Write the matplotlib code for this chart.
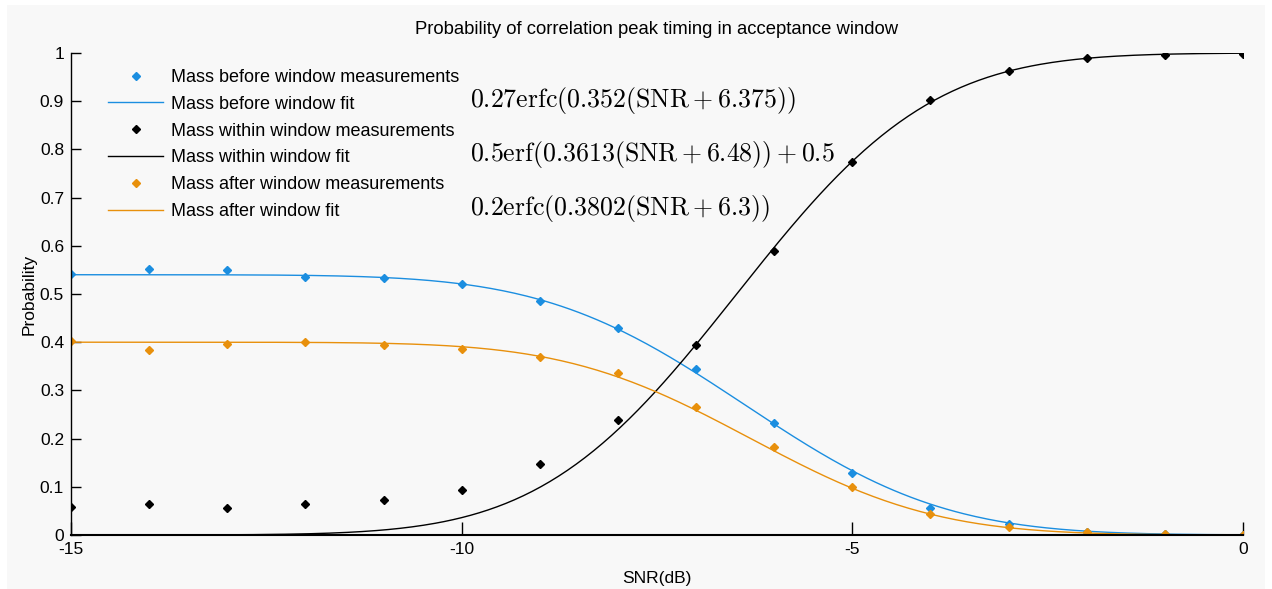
import math
import numpy as np
import matplotlib
matplotlib.use("Agg")
import matplotlib.pyplot as plt
from matplotlib.patches import Rectangle

# ---- data ----
snr = [-15, -14, -13, -12, -11, -10, -9, -8, -7, -6, -5, -4, -3, -2, -1, 0]
before_meas = [0.541, 0.552, 0.550, 0.535, 0.533, 0.521, 0.485, 0.429, 0.344,
               0.232, 0.129, 0.056, 0.023, 0.006, 0.002, 0.000]
within_meas = [0.058, 0.064, 0.056, 0.064, 0.073, 0.093, 0.147, 0.239, 0.394,
               0.589, 0.774, 0.902, 0.963, 0.990, 0.996, 0.998]
after_meas = [0.402, 0.384, 0.396, 0.400, 0.394, 0.386, 0.369, 0.336, 0.266,
              0.183, 0.100, 0.044, 0.017, 0.006, 0.002, 0.001]

# fit parameters shown on the chart
before_fit = (0.27, 0.352, 6.375)    # a*erfc(k(SNR+c))
within_fit = (0.5, 0.3613, 6.48)     # a*erf(k(SNR+c)) + 0.5
after_fit = (0.2, 0.3802, 6.3)       # a*erfc(k(SNR+c))

eq_labels = [r"$0.27\mathrm{erfc}(0.352(\mathrm{SNR}+6.375))$",
             r"$0.5\mathrm{erf}(0.3613(\mathrm{SNR}+6.48))+0.5$",
             r"$0.2\mathrm{erfc}(0.3802(\mathrm{SNR}+6.3))$"]

xticks = [-15, -10, -5, 0]
yticks = [0, 0.1, 0.2, 0.3, 0.4, 0.5, 0.6, 0.7, 0.8, 0.9, 1]
ytick_labels = ["0", "0.1", "0.2", "0.3", "0.4", "0.5", "0.6", "0.7", "0.8", "0.9", "1"]

BLUE = "#1b8ee0"
ORANGE = "#e8900c"
BLACK = "#000000"

erf = np.vectorize(math.erf)

plt.rcParams['font.family'] = ['Liberation Sans', 'DejaVu Sans']
plt.rcParams['mathtext.fontset'] = 'cm'

fig = plt.figure(figsize=(12.72, 5.89), dpi=100, facecolor="white")
fig.patches.append(Rectangle((7 / 1272, 0), 1 - 14 / 1272, 1 - 5 / 589,
                             transform=fig.transFigure, facecolor="#f8f8f8",
                             edgecolor="none", zorder=-10))
ax = fig.add_axes([71 / 1272, 1 - 535 / 589, (1243 - 71) / 1272, (535 - 53) / 589])
ax.set_facecolor("#f8f8f8")

xs = np.linspace(-15, 0, 400)
a, k, c = before_fit
yb = a * (1 - erf(k * (xs + c)))
a, k, c = within_fit
yw = a * erf(k * (xs + c)) + 0.5
a, k, c = after_fit
ya = a * (1 - erf(k * (xs + c)))

ms = 4.5
ax.plot(snr, before_meas, linestyle="none", marker="D", ms=ms, color=BLUE,
        label="Mass before window measurements")
ax.plot(xs, yb, color=BLUE, lw=1.0, label="Mass before window fit")
ax.plot(snr, within_meas, linestyle="none", marker="D", ms=ms, color=BLACK,
        label="Mass within window measurements")
ax.plot(xs, yw, color=BLACK, lw=1.0, label="Mass within window fit")
ax.plot(snr, after_meas, linestyle="none", marker="D", ms=ms, color=ORANGE,
        label="Mass after window measurements")
ax.plot(xs, ya, color=ORANGE, lw=1.0, label="Mass after window fit")

ax.set_xlim(-15, 0)
ax.set_ylim(0, 1)
ax.set_xticks(xticks)
ax.set_xticklabels([str(t) for t in xticks])
ax.set_yticks(yticks)
ax.set_yticklabels(ytick_labels)
ax.tick_params(axis="x", direction="in", length=9.5, width=1, labelsize=12.5, pad=5)
ax.tick_params(axis="y", direction="in", length=7.5, width=1, labelsize=12.5, pad=5)
for s in ["top", "right"]:
    ax.spines[s].set_visible(False)
ax.spines["left"].set_linewidth(1.0)
ax.spines["bottom"].set_linewidth(1.5)

ax.set_title("Probability of correlation peak timing in acceptance window",
             fontsize=13.3, pad=14)
ax.set_xlabel("SNR(dB)", fontsize=12.5, labelpad=10)
ax.set_ylabel("Probability", fontsize=12.5, labelpad=2)

leg = ax.legend(loc="upper left", bbox_to_anchor=(0.025, 0.982), frameon=False,
                fontsize=13, handlelength=3.1, handletextpad=0.4,
                labelspacing=0.545, borderaxespad=0)

for lbl, ypix in zip(eq_labels, [101, 155, 209]):
    fig.text(470 / 1272, 1 - ypix / 589, lbl, fontsize=18.6, va="center", ha="left")

fig.savefig("out.png", dpi=100, facecolor=fig.get_facecolor())
